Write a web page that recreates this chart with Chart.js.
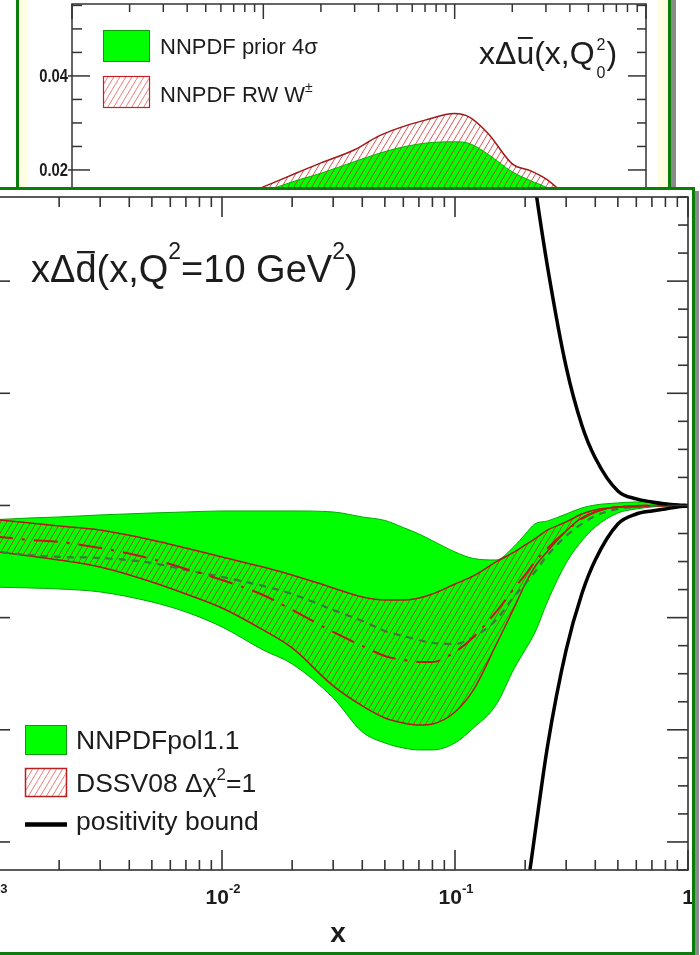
<!DOCTYPE html>
<html>
<head>
<meta charset="utf-8">
<script src="https://cdn.jsdelivr.net/npm/chart.js@4.4.1/dist/chart.umd.min.js"></script>
<style>
  html, body { margin: 0; padding: 0; background: #fff; width: 700px; height: 955px; overflow: hidden; position: relative; }
  #backPanel { position: absolute; left: 16px; top: -30px; width: 649px; height: 300px; border: 3px solid #0b7d0b; background: #fffde2; box-shadow: 5px 5px 0 #8a8a8a; }
  #backInner { position: absolute; left: 28px; top: -20px; width: 630px; height: 300px; background: #fff; }
  #back { position: absolute; left: 28px; top: 0; }
  #frontPanel { position: absolute; left: -40px; top: 187px; width: 729px; height: 762px; border: 3px solid #0b7d0b; background: #fff; box-shadow: 4px 4px 0 #8a8a8a; }
  #front { position: absolute; left: -40px; top: 190px; }
</style>
</head>
<body>
<div id="backPanel"></div>
<div id="backInner"></div>
<canvas id="back" width="630" height="270"></canvas>
<div id="frontPanel"></div>
<canvas id="front" width="732" height="763"></canvas>

<script>
// ---------------------------------------------------------------
// x Δd̄(x, Q² = 10 GeV²) — all values in units of 10^-3
// ---------------------------------------------------------------
const xGrid = [0.001, 0.0015, 0.002, 0.003, 0.005, 0.007, 0.01, 0.015, 0.02, 0.03,
               0.04, 0.05, 0.06, 0.07, 0.08, 0.1, 0.12, 0.15, 0.18, 0.2,
               0.22, 0.25, 0.3, 0.35, 0.4, 0.5, 0.6, 0.7, 0.8, 0.9, 1.0];

const nnpdfUpper = [-2.59, -2.23, -2.05, -1.69, -1.34, -1.16, -0.98, -0.98, -0.98, -1.16,
                    -2.05, -2.67, -3.94, -5.08, -6.28, -8.29, -9.45, -9.72, -7.22, -5.14,
                    -3.30, -2.76, -1.52, -0.45, 0.09, 0.45, 0.62, 0.62, 0.45, 0.27, 0];
const nnpdfLower = [-14.53, -14.71, -14.89, -15.42, -17.21, -18.99, -21.66, -25.76, -28.26, -34.32,
                    -40.38, -42.35, -43.24, -43.59, -43.59, -42.35, -39.67, -35.57, -28.97, -25.76,
                    -22.73, -17.03, -10.25, -6.33, -3.83, -1.34, -0.62, -0.27, -0.09, -0.09, 0];
const nnpdfCentral = [-8.11, -8.83, -9.18, -9.36, -10.25, -11.50, -12.75, -14.35, -15.78, -18.63,
                      -20.59, -22.38, -23.27, -23.98, -24.52, -24.69, -23.45, -20.42, -16.14, -14.00,
                      -11.86, -8.83, -5.44, -3.30, -1.87, -0.62, -0.27, -0.09, 0, 0, 0];

const dssvUpper = [-2.41, -3.12, -3.66, -4.37, -6.15, -7.58, -9.18, -10.97, -12.39, -14.71,
                   -16.31, -16.85, -16.85, -16.49, -15.78, -14.00, -12.57, -10.07, -8.29, -7.04,
                   -5.97, -4.37, -2.94, -1.52, -0.80, -0.27, -0.09, 0, 0, 0, 0];
const dssvLower = [-8.11, -9.00, -9.72, -10.97, -13.64, -15.78, -18.28, -22.20, -25.41, -32.18,
                   -35.75, -37.89, -38.78, -39.14, -38.96, -36.82, -32.90, -24.87, -18.10, -14.00,
                   -10.97, -8.11, -4.55, -2.23, -1.16, -0.27, -0.27, -0.09, -0.09, 0, 0];
const dssvCentral = [-5.44, -6.15, -6.51, -7.58, -9.54, -11.32, -13.28, -15.96, -18.63, -22.55,
                     -25.05, -26.83, -27.55, -27.90, -27.90, -26.12, -23.45, -18.99, -14.71, -12.39,
                     -10.07, -7.58, -4.55, -2.41, -1.16, -0.27, -0.09, 0, 0, 0, 0];

// positivity bound (only drawn at large x)
const xBound = [0.2, 0.22, 0.25, 0.3, 0.35, 0.4, 0.5, 0.6, 0.7, 0.8, 0.9, 1.0];
const boundUpper = [69.81, 57.32, 42.35, 24.69, 14.35, 8.47, 2.59, 1.16, 0.62, 0.27, 0.09, 0];
const boundLower = [-71.23, -58.75, -42.70, -25.76, -15.78, -9.72, -3.30, -1.52, -0.98, -0.62, -0.27, -0.09];

// front-panel axis ticks
const xMajorTicks = [0.001, 0.01, 0.1, 1];
const xTickExponents = [-3, -2, -1, 0];
const yMajorTicks = [-60, -40, -20, 0, 20, 40];
const yMinorStep = 5;

// ---------------------------------------------------------------
// x Δū(x, Q0²) — background panel, upper band edges (10^-3)
// ---------------------------------------------------------------
const topX = [0.005, 0.01, 0.015, 0.02, 0.03, 0.04, 0.05, 0.07, 0.1, 0.12, 0.15, 0.2, 0.25, 0.3, 0.4, 0.5];
const priorUpper = [10.4, 15.3, 17.8, 19.3, 21.8, 23.5, 24.6, 25.7, 26.0, 25.6, 23.3, 19.6, 17.7, 16.3, 12.5, 10.0];
const rwUpper    = [11.5, 16.4, 19.4, 21.5, 24.3, 27.2, 28.8, 30.6, 32.0, 31.2, 27.7, 21.3, 19.8, 18.1, 14.0, 12.0];
const topYLabels = [20, 40];

// ---------------------------------------------------------------
const FONT = '"Liberation Sans", Arial, Helvetica, sans-serif';
const TEXT = '#1c1c1c';
const FRAME = '#333';

function makeHatch(color) {
  const c = document.createElement('canvas');
  c.width = 6; c.height = 10;
  const g = c.getContext('2d');
  g.strokeStyle = color; g.lineWidth = 1;
  g.beginPath();
  for (const o of [-6, 0, 6]) { g.moveTo(o, 10); g.lineTo(o + 6, 0); }
  g.stroke();
  return g.createPattern(c, 'repeat');
}

const pts = (xs, ys) => xs.map((x, i) => ({ x, y: ys[i] }));
const curve = (label, data, opts) => Object.assign({
  label, data, pointRadius: 0, borderWidth: 1.5, fill: false, cubicInterpolationMode: 'monotone'
}, opts);

// text runs with optional raised/lowered pieces and overlines
function richText(ctx, x, y, parts) {
  let cx = x;
  for (const p of parts) {
    ctx.font = (p.bold ? 'bold ' : '') + p.size + 'px ' + FONT;
    const w = ctx.measureText(p.t).width;
    ctx.fillText(p.t, cx, y + (p.dy || 0));
    if (p.over !== undefined) ctx.fillRect(cx + w * 0.08, y + p.over, w * 0.84, Math.max(1.5, p.size * 0.06));
    if (!p.stay) cx += w + (p.gap || 0);
  }
  return cx;
}
function richWidth(ctx, parts) {
  let w = 0;
  for (const p of parts) {
    ctx.font = (p.bold ? 'bold ' : '') + p.size + 'px ' + FONT;
    if (!p.stay) w += ctx.measureText(p.t).width + (p.gap || 0);
  }
  return w;
}

function minorLogTicks() {
  const out = [];
  for (let d = -3; d < 0; d++) for (let k = 2; k <= 9; k++) out.push(k * Math.pow(10, d));
  return out;
}

function hLine(ctx, x1, y1, x2, y2) { ctx.beginPath(); ctx.moveTo(x1, y1); ctx.lineTo(x2, y2); ctx.stroke(); }

// ---------------- front panel decorations ----------------
const frontDecor = {
  id: 'frontDecor',
  afterDraw(chart) {
    const ctx = chart.ctx, a = chart.chartArea, xs = chart.scales.x, ys = chart.scales.y;
    ctx.save();
    ctx.strokeStyle = FRAME; ctx.lineWidth = 1.6;
    ctx.strokeRect(a.left, a.top, a.right - a.left, a.bottom - a.top);

    // x ticks, pointing inward from top and bottom
    for (const v of xMajorTicks) {
      const p = xs.getPixelForValue(v);
      hLine(ctx, p, a.bottom, p, a.bottom - 20);
      hLine(ctx, p, a.top, p, a.top + 20);
    }
    for (const v of minorLogTicks()) {
      const p = xs.getPixelForValue(v);
      hLine(ctx, p, a.bottom, p, a.bottom - 10);
      hLine(ctx, p, a.top, p, a.top + 10);
    }
    // y ticks, left and right
    for (let v = ys.min; v <= ys.max + 1e-9; v += yMinorStep) {
      const p = ys.getPixelForValue(v);
      const len = yMajorTicks.includes(Math.round(v)) ? 21 : 10;
      hLine(ctx, a.left, p, a.left + len, p);
      hLine(ctx, a.right, p, a.right - len, p);
    }

    // x tick labels 10^n
    ctx.fillStyle = TEXT; ctx.textBaseline = 'alphabetic';
    xMajorTicks.forEach((v, i) => {
      const p = xs.getPixelForValue(v);
      const e = xTickExponents[i];
      const parts = e === 0 ? [{ t: '1', size: 21, bold: true }]
                            : [{ t: '10', size: 21, bold: true }, { t: '-' + Math.abs(e), size: 13, bold: true, dy: -11 }];
      const w = richWidth(ctx, parts);
      richText(ctx, p - w / 2 + (e === 0 ? 0 : 1), a.bottom + 34, parts);
    });
    // axis title
    ctx.font = 'bold 28px ' + FONT; ctx.textAlign = 'center';
    ctx.fillText('x', 378, 752);
    ctx.textAlign = 'left';

    // panel title
    ctx.fillStyle = TEXT;
    richText(ctx, 71, 92, [
      { t: 'xΔ', size: 38 },
      { t: 'd', size: 38, over: -31 },
      { t: '(x,Q', size: 38 },
      { t: '2', size: 23, dy: -23 },
      { t: '=10 GeV', size: 38 },
      { t: '2', size: 23, dy: -23 },
      { t: ')', size: 38 }
    ]);

    // legend
    const lx = 65, lw = 42;
    ctx.fillStyle = '#00ff00'; ctx.fillRect(lx, 535, lw, 30);
    ctx.strokeStyle = '#0a9a0a'; ctx.lineWidth = 1; ctx.strokeRect(lx + 0.5, 535.5, lw - 1, 29);
    ctx.fillStyle = '#fff'; ctx.fillRect(lx, 578, lw, 29);
    ctx.fillStyle = legendHatch; ctx.fillRect(lx, 578, lw, 29);
    ctx.strokeStyle = '#b82020'; ctx.lineWidth = 1.5; ctx.strokeRect(lx + 0.5, 578.5, lw - 1, 28);
    ctx.strokeStyle = '#000'; ctx.lineWidth = 4.5; hLine(ctx, lx, 634.5, lx + lw, 634.5);

    ctx.fillStyle = TEXT;
    richText(ctx, 116, 559, [{ t: 'NNPDFpol1.1', size: 26.5 }]);
    richText(ctx, 116, 602, [{ t: 'DSSV08 Δχ', size: 26.5 }, { t: '2', size: 17, dy: -12 }, { t: '=1', size: 26.5 }]);
    richText(ctx, 116, 640, [{ t: 'positivity bound', size: 26.5 }]);
    ctx.restore();
  }
};

// ---------------- background panel decorations ----------------
const backDecor = {
  id: 'backDecor',
  afterDraw(chart) {
    const ctx = chart.ctx, a = chart.chartArea, xs = chart.scales.x, ys = chart.scales.y;
    ctx.save();
    ctx.strokeStyle = FRAME; ctx.lineWidth = 1.5;
    ctx.strokeRect(a.left, a.top, a.right - a.left, a.bottom - a.top);
    for (const v of xMajorTicks) { const p = xs.getPixelForValue(v); hLine(ctx, p, a.top, p, a.top + 15); }
    for (const v of minorLogTicks()) { const p = xs.getPixelForValue(v); hLine(ctx, p, a.top, p, a.top + 8); }
    for (let v = 0; v <= ys.max; v += 5) {
      const p = ys.getPixelForValue(v);
      const major = v % 20 === 0;
      hLine(ctx, a.left - (major ? 4 : 0), p, a.left + (major ? 18 : 10), p);
      hLine(ctx, a.right, p, a.right - (major ? 18 : 9), p);
    }
    // y labels: tall, slightly condensed bold digits
    ctx.fillStyle = TEXT;
    ctx.font = 'bold 19px ' + FONT; ctx.textAlign = 'right'; ctx.textBaseline = 'middle';
    for (const v of topYLabels) {
      ctx.save();
      ctx.translate(a.left - 4, ys.getPixelForValue(v) + 1);
      ctx.scale(0.78, 1);
      ctx.fillText((v / 1000).toFixed(2), 0, 0);
      ctx.restore();
    }
    ctx.textAlign = 'left'; ctx.textBaseline = 'alphabetic';

    // legend
    ctx.fillStyle = '#00ff00'; ctx.fillRect(75, 30, 47, 32);
    ctx.strokeStyle = '#0a9a0a'; ctx.lineWidth = 1; ctx.strokeRect(75.5, 30.5, 46, 31);
    ctx.fillStyle = legendHatch; ctx.fillRect(75, 76, 47, 32);
    ctx.strokeStyle = '#c82020'; ctx.lineWidth = 1.2; ctx.strokeRect(75.5, 76.5, 46, 31);
    ctx.fillStyle = TEXT;
    richText(ctx, 132, 54, [{ t: 'NNPDF prior 4σ', size: 22 }]);
    richText(ctx, 132, 102, [{ t: 'NNPDF RW W', size: 22 }, { t: '±', size: 14, dy: -10 }]);

    // panel title
    const end = richText(ctx, 451, 64, [
      { t: 'xΔ', size: 32 },
      { t: 'u', size: 32, over: -27 },
      { t: '(x,Q', size: 32, gap: 2 },
      { t: '2', size: 16, dy: -14, stay: true },
      { t: '0', size: 16, dy: 14 }
    ]);
    ctx.font = '32px ' + FONT; ctx.fillText(')', end + 1, 64);
    ctx.restore();
  }
};

const bandHatch = makeHatch('rgba(205,30,30,0.75)');
const legendHatch = makeHatch('rgba(230,70,70,0.7)');

// background panel: x Δū at the input scale
new Chart(document.getElementById('back'), {
  type: 'line',
  data: {
    datasets: [
      curve('NNPDF RW W±', pts(topX, rwUpper), { borderColor: '#a01818', borderWidth: 1.5, fill: 'start', backgroundColor: bandHatch }),
      curve('NNPDF prior 4σ', pts(topX, priorUpper), { borderColor: '#00b400', borderWidth: 1, fill: 'start', backgroundColor: '#00ff00' })
    ]
  },
  options: {
    responsive: false, animation: false, events: [],
    layout: { padding: { left: 44, right: 12, top: 4, bottom: 6 } },
    scales: {
      x: { type: 'logarithmic', min: 0.001, max: 1, display: false },
      y: { type: 'linear', min: 0, max: 55.3, display: false }
    },
    plugins: { legend: { display: false }, tooltip: { enabled: false }, filler: { drawTime: 'beforeDatasetsDraw' } }
  },
  plugins: [backDecor]
});

// front panel: x Δd̄ at Q² = 10 GeV²
new Chart(document.getElementById('front'), {
  type: 'line',
  data: {
    datasets: [
      curve('positivity bound', pts(xBound, boundUpper), { borderColor: '#000', borderWidth: 3.5 }),
      curve('positivity bound (lower)', pts(xBound, boundLower), { borderColor: '#000', borderWidth: 3.5 }),
      curve('DSSV08 central', pts(xGrid, dssvCentral), { borderColor: '#c01818', borderWidth: 2, borderDash: [24, 9, 3, 9] }),
      curve('NNPDFpol1.1 central', pts(xGrid, nnpdfCentral), { borderColor: '#3a7a3a', borderWidth: 2.2, borderDash: [7, 6] }),
      curve('DSSV08 lower', pts(xGrid, dssvLower), { borderColor: '#b01818', borderWidth: 1.5 }),
      curve('DSSV08 Δχ²=1', pts(xGrid, dssvUpper), { borderColor: '#b01818', borderWidth: 1.5, fill: '-1', backgroundColor: bandHatch }),
      curve('NNPDFpol1.1 lower', pts(xGrid, nnpdfLower), { borderColor: '#00a800', borderWidth: 1 }),
      curve('NNPDFpol1.1', pts(xGrid, nnpdfUpper), { borderColor: '#00a800', borderWidth: 1, fill: '-1', backgroundColor: '#00ff00' })
    ]
  },
  options: {
    responsive: false, animation: false, events: [],
    layout: { padding: { left: 29, right: 4, top: 7, bottom: 83 } },
    scales: {
      x: { type: 'logarithmic', min: 0.001, max: 1, display: false },
      y: { type: 'linear', min: -65, max: 55, display: false }
    },
    plugins: { legend: { display: false }, tooltip: { enabled: false }, filler: { drawTime: 'beforeDatasetsDraw' } }
  },
  plugins: [frontDecor]
});
</script>
</body>
</html>
